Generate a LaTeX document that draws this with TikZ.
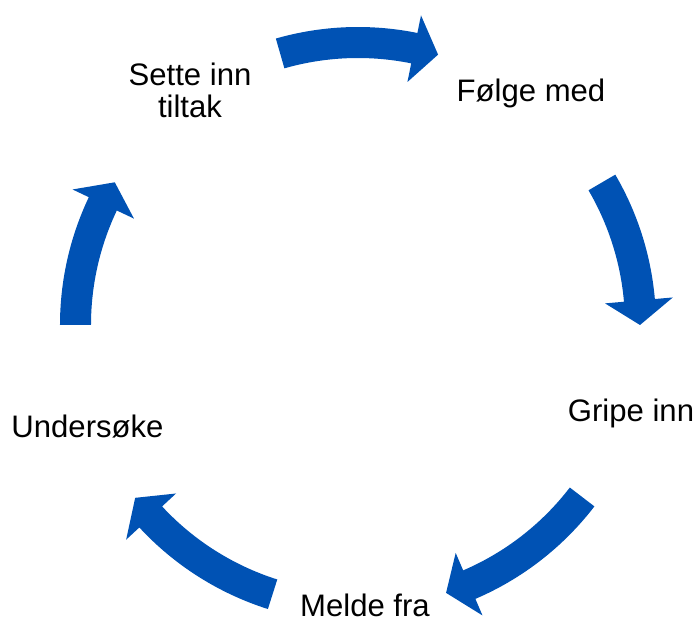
\documentclass[tikz,border=0pt]{standalone}
\usepackage{fontspec}
\setmainfont{Liberation Sans}
\usetikzlibrary{calc,positioning}

\definecolor{cycleblue}{RGB}{0,82,180}

\newcommand{\cyclearrow}[2]{%
  \fill[arrowfill] (#1:298) arc[start angle=#1, end angle=#2+5, radius=298]
    -- (#2+5:316) -- (#2:282) -- (#2+5:248) -- (#2+5:267)
    arc[start angle=#2+5, end angle=#1, radius=267] -- cycle;}

\begin{document}
\begin{tikzpicture}[
    x=0.5pt, y=0.5pt,
    align=center,
    label/.style={inner sep=0pt, font=\fontsize{15.55}{15.6}\selectfont},
    arrowfill/.style={fill=cycleblue}
  ]
  \useasboundingbox (-358,-296) rectangle (339,325);

  \coordinate (hub) at (0,0);

  \node (folge)      [label, anchor=base]  at (173,223)    {Følge med};
  \node (gripe)      [label, anchor=base]  at (273,-97)    {Gripe inn};
  \node (melde)      [label, anchor=base]  at (7,-292)     {Melde fra};
  \node (undersoke)  [label, anchor=base]  at (-270.5,-113) {Undersøke};
  \node (sette)      [label, anchor=north] at (-168,262)   {Sette inn\\
                                                             tiltak};

  \cyclearrow{106}{73.5}
  \cyclearrow{30.3}{0}
  \cyclearrow{-37.5}{-71.8}
  \cyclearrow{-107.6}{-142.2}
  \cyclearrow{180}{149.6}
\end{tikzpicture}
\end{document}
